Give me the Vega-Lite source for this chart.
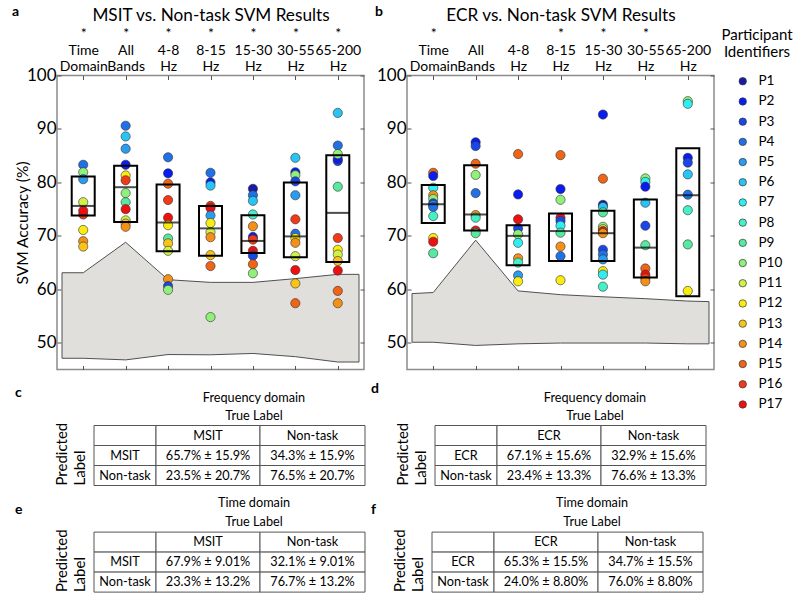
{
"$schema": "https://vega.github.io/schema/vega-lite/v6.json",
"background": "white",
"padding": {"left": 11, "top": 3.5, "right": 5, "bottom": 5},
"config": {
  "font": "Lato",
  "view": {"stroke": null},
  "axis": {"labelFont": "Lato", "titleFont": "Lato", "labelColor": "black", "titleColor": "black", "titleFontWeight": "normal", "grid": false},
  "title": {"font": "Lato", "color": "black"},
  "text": {"font": "Lato"}
},
"datasets": {
  "pts": [
    {"pn":"a","c":1,"p":"P4","v":83.3},{"pn":"a","c":1,"p":"P10","v":81.9},{"pn":"a","c":1,"p":"P5","v":80.6},{"pn":"a","c":1,"p":"P11","v":76.3},{"pn":"a","c":1,"p":"P16","v":74.0},{"pn":"a","c":1,"p":"P17","v":74.7},{"pn":"a","c":1,"p":"P12","v":71.1},{"pn":"a","c":1,"p":"P14","v":69.0},{"pn":"a","c":1,"p":"P13","v":68.0},
    {"pn":"a","c":2,"p":"P4","v":90.6},{"pn":"a","c":2,"p":"P6","v":88.6},{"pn":"a","c":2,"p":"P5","v":86.3},{"pn":"a","c":2,"p":"P2","v":83.3},{"pn":"a","c":2,"p":"P12","v":81.3},{"pn":"a","c":2,"p":"P16","v":80.4},{"pn":"a","c":2,"p":"P10","v":78.0},{"pn":"a","c":2,"p":"P9","v":76.3},{"pn":"a","c":2,"p":"P17","v":75.0},{"pn":"a","c":2,"p":"P11","v":72.9},{"pn":"a","c":2,"p":"P13","v":72.3},{"pn":"a","c":2,"p":"P14","v":71.7},
    {"pn":"a","c":3,"p":"P4","v":84.7},{"pn":"a","c":3,"p":"P2","v":81.7},{"pn":"a","c":3,"p":"P15","v":79.75},{"pn":"a","c":3,"p":"P16","v":76.7},{"pn":"a","c":3,"p":"P17","v":73.4},{"pn":"a","c":3,"p":"P12","v":72.0},{"pn":"a","c":3,"p":"P9","v":69.5},{"pn":"a","c":3,"p":"P13","v":68.6},{"pn":"a","c":3,"p":"P11","v":67.2},{"pn":"a","c":3,"p":"P14","v":61.9},{"pn":"a","c":3,"p":"P3","v":60.6},{"pn":"a","c":3,"p":"P10","v":59.9},
    {"pn":"a","c":4,"p":"P4","v":81.8},{"pn":"a","c":4,"p":"P2","v":80.0},{"pn":"a","c":4,"p":"P6","v":79.4},{"pn":"a","c":4,"p":"P16","v":75.6},{"pn":"a","c":4,"p":"P17","v":75.2},{"pn":"a","c":4,"p":"P5","v":73.8},{"pn":"a","c":4,"p":"P12","v":72.4},{"pn":"a","c":4,"p":"P11","v":70.7},{"pn":"a","c":4,"p":"P14","v":69.75},{"pn":"a","c":4,"p":"P13","v":66.4},{"pn":"a","c":4,"p":"P15","v":64.35},{"pn":"a","c":4,"p":"P10","v":54.8},
    {"pn":"a","c":5,"p":"P1","v":78.8},{"pn":"a","c":5,"p":"P4","v":77.6},{"pn":"a","c":5,"p":"P6","v":76.55},{"pn":"a","c":5,"p":"P8","v":74.0},{"pn":"a","c":5,"p":"P14","v":71.8},{"pn":"a","c":5,"p":"P2","v":69.8},{"pn":"a","c":5,"p":"P16","v":69.3},{"pn":"a","c":5,"p":"P17","v":67.2},{"pn":"a","c":5,"p":"P3","v":66.3},{"pn":"a","c":5,"p":"P15","v":64.7},{"pn":"a","c":5,"p":"P10","v":63.0},
    {"pn":"a","c":6,"p":"P6","v":84.6},{"pn":"a","c":6,"p":"P2","v":81.9},{"pn":"a","c":6,"p":"P10","v":81.35},{"pn":"a","c":6,"p":"P3","v":80.2},{"pn":"a","c":6,"p":"P5","v":77.6},{"pn":"a","c":6,"p":"P16","v":73.1},{"pn":"a","c":6,"p":"P4","v":70.4},{"pn":"a","c":6,"p":"P12","v":69.6},{"pn":"a","c":6,"p":"P14","v":68.7},{"pn":"a","c":6,"p":"P11","v":66.2},{"pn":"a","c":6,"p":"P17","v":63.6},{"pn":"a","c":6,"p":"P13","v":61.1},{"pn":"a","c":6,"p":"P15","v":57.4},
    {"pn":"a","c":7,"p":"P6","v":93.0},{"pn":"a","c":7,"p":"P4","v":86.9},{"pn":"a","c":7,"p":"P3","v":84.0},{"pn":"a","c":7,"p":"P2","v":84.4},{"pn":"a","c":7,"p":"P10","v":85.3},{"pn":"a","c":7,"p":"P9","v":79.2},{"pn":"a","c":7,"p":"P16","v":69.6},{"pn":"a","c":7,"p":"P12","v":67.4},{"pn":"a","c":7,"p":"P11","v":66.5},{"pn":"a","c":7,"p":"P13","v":65.3},{"pn":"a","c":7,"p":"P17","v":63.5},{"pn":"a","c":7,"p":"P15","v":59.7},{"pn":"a","c":7,"p":"P14","v":57.4},
    {"pn":"b","c":1,"p":"P15","v":81.8},{"pn":"b","c":1,"p":"P2","v":81.2},{"pn":"b","c":1,"p":"P7","v":79.0},{"pn":"b","c":1,"p":"P14","v":77.6},{"pn":"b","c":1,"p":"P10","v":76.9},{"pn":"b","c":1,"p":"P3","v":76.1},{"pn":"b","c":1,"p":"P5","v":75.75},{"pn":"b","c":1,"p":"P4","v":75.4},{"pn":"b","c":1,"p":"P8","v":73.7},{"pn":"b","c":1,"p":"P12","v":69.6},{"pn":"b","c":1,"p":"P17","v":68.9},{"pn":"b","c":1,"p":"P9","v":66.75},
    {"pn":"b","c":2,"p":"P2","v":87.5},{"pn":"b","c":2,"p":"P3","v":86.8},{"pn":"b","c":2,"p":"P15","v":83.5},{"pn":"b","c":2,"p":"P10","v":81.4},{"pn":"b","c":2,"p":"P4","v":78.0},{"pn":"b","c":2,"p":"P14","v":73.9},{"pn":"b","c":2,"p":"P8","v":73.4},{"pn":"b","c":2,"p":"P17","v":71.0},{"pn":"b","c":2,"p":"P9","v":70.5},
    {"pn":"b","c":3,"p":"P15","v":85.3},{"pn":"b","c":3,"p":"P2","v":77.75},{"pn":"b","c":3,"p":"P17","v":73.1},{"pn":"b","c":3,"p":"P3","v":71.4},{"pn":"b","c":3,"p":"P10","v":70.3},{"pn":"b","c":3,"p":"P7","v":68.7},{"pn":"b","c":3,"p":"P14","v":65.8},{"pn":"b","c":3,"p":"P8","v":65.0},{"pn":"b","c":3,"p":"P5","v":62.6},{"pn":"b","c":3,"p":"P12","v":61.5},
    {"pn":"b","c":4,"p":"P15","v":85.1},{"pn":"b","c":4,"p":"P2","v":78.75},{"pn":"b","c":4,"p":"P10","v":76.75},{"pn":"b","c":4,"p":"P17","v":73.4},{"pn":"b","c":4,"p":"P3","v":72.8},{"pn":"b","c":4,"p":"P7","v":71.9},{"pn":"b","c":4,"p":"P9","v":70.6},{"pn":"b","c":4,"p":"P14","v":68.0},{"pn":"b","c":4,"p":"P4","v":66.2},{"pn":"b","c":4,"p":"P12","v":61.7},
    {"pn":"b","c":5,"p":"P2","v":92.7},{"pn":"b","c":5,"p":"P15","v":80.7},{"pn":"b","c":5,"p":"P1","v":75.8},{"pn":"b","c":5,"p":"P6","v":75.4},{"pn":"b","c":5,"p":"P9","v":74.4},{"pn":"b","c":5,"p":"P10","v":71.7},{"pn":"b","c":5,"p":"P11","v":71.25},{"pn":"b","c":5,"p":"P17","v":70.9},{"pn":"b","c":5,"p":"P14","v":70.5},{"pn":"b","c":5,"p":"P3","v":67.4},{"pn":"b","c":5,"p":"P4","v":66.5},{"pn":"b","c":5,"p":"P5","v":65.6},{"pn":"b","c":5,"p":"P12","v":63.4},{"pn":"b","c":5,"p":"P7","v":62.75},{"pn":"b","c":5,"p":"P8","v":60.5},
    {"pn":"b","c":6,"p":"P10","v":80.75},{"pn":"b","c":6,"p":"P7","v":80.1},{"pn":"b","c":6,"p":"P2","v":79.2},{"pn":"b","c":6,"p":"P6","v":76.2},{"pn":"b","c":6,"p":"P3","v":71.9},{"pn":"b","c":6,"p":"P9","v":68.25},{"pn":"b","c":6,"p":"P15","v":63.9},{"pn":"b","c":6,"p":"P17","v":62.75},{"pn":"b","c":6,"p":"P16","v":62.1},{"pn":"b","c":6,"p":"P14","v":61.5},
    {"pn":"b","c":7,"p":"P10","v":95.2},{"pn":"b","c":7,"p":"P7","v":94.7},{"pn":"b","c":7,"p":"P2","v":84.6},{"pn":"b","c":7,"p":"P3","v":83.7},{"pn":"b","c":7,"p":"P6","v":81.5},{"pn":"b","c":7,"p":"P4","v":77.7},{"pn":"b","c":7,"p":"P8","v":74.8},{"pn":"b","c":7,"p":"P9","v":68.4},{"pn":"b","c":7,"p":"P12","v":59.7}
  ],
  "box": [
    {"pn":"a","c":1,"lo":73.8,"med":75.6,"hi":81.1},{"pn":"a","c":2,"lo":72.6,"med":79.1,"hi":83.1},{"pn":"a","c":3,"lo":67.1,"med":72.5,"hi":79.6},{"pn":"a","c":4,"lo":66.3,"med":71.4,"hi":75.6},{"pn":"a","c":5,"lo":66.8,"med":69.05,"hi":73.85},{"pn":"a","c":6,"lo":66.0,"med":69.9,"hi":80.0},{"pn":"a","c":7,"lo":65.1,"med":74.3,"hi":85.1},
    {"pn":"b","c":1,"lo":72.4,"med":75.9,"hi":79.5},{"pn":"b","c":2,"lo":71.0,"med":74.0,"hi":83.2},{"pn":"b","c":3,"lo":64.5,"med":70.0,"hi":72.0},{"pn":"b","c":4,"lo":65.3,"med":70.9,"hi":74.2},{"pn":"b","c":5,"lo":65.3,"med":70.5,"hi":74.7},{"pn":"b","c":6,"lo":62.2,"med":67.8,"hi":76.8},{"pn":"b","c":7,"lo":58.7,"med":77.6,"hi":86.4}
  ],
  "band": [
    {"pn":"a","x":0.5,"hi":63.1,"lo":47.1},{"pn":"a","x":1,"hi":63.1,"lo":47.1},{"pn":"a","x":2,"hi":68.8,"lo":46.8},{"pn":"a","x":3,"hi":61.8,"lo":47.8},{"pn":"a","x":4,"hi":61.3,"lo":47.75},{"pn":"a","x":5,"hi":61.3,"lo":48.0},{"pn":"a","x":6,"hi":62.0,"lo":47.4},{"pn":"a","x":7,"hi":62.8,"lo":46.4},{"pn":"a","x":7.5,"hi":62.8,"lo":46.4},
    {"pn":"b","x":0.5,"hi":59.2,"lo":50.1},{"pn":"b","x":1,"hi":59.4,"lo":50.1},{"pn":"b","x":2,"hi":69.2,"lo":49.5},{"pn":"b","x":3,"hi":59.7,"lo":49.8},{"pn":"b","x":4,"hi":59.0,"lo":49.95},{"pn":"b","x":5,"hi":58.6,"lo":49.95},{"pn":"b","x":6,"hi":58.25,"lo":49.95},{"pn":"b","x":7,"hi":57.8,"lo":49.8},{"pn":"b","x":7.5,"hi":57.7,"lo":49.8}
  ],
  "tbl": [
    {"t":"c","col":0,"row":0,"txt":""},{"t":"c","col":0,"row":1,"txt":"MSIT"},{"t":"c","col":0,"row":2,"txt":"Non-task"},
    {"t":"c","col":1,"row":0,"txt":"MSIT"},{"t":"c","col":1,"row":1,"txt":"65.7% ± 15.9%"},{"t":"c","col":1,"row":2,"txt":"23.5% ± 20.7%"},
    {"t":"c","col":2,"row":0,"txt":"Non-task"},{"t":"c","col":2,"row":1,"txt":"34.3% ± 15.9%"},{"t":"c","col":2,"row":2,"txt":"76.5% ± 20.7%"},
    {"t":"d","col":0,"row":0,"txt":""},{"t":"d","col":0,"row":1,"txt":"ECR"},{"t":"d","col":0,"row":2,"txt":"Non-task"},
    {"t":"d","col":1,"row":0,"txt":"ECR"},{"t":"d","col":1,"row":1,"txt":"67.1% ± 15.6%"},{"t":"d","col":1,"row":2,"txt":"23.4% ± 13.3%"},
    {"t":"d","col":2,"row":0,"txt":"Non-task"},{"t":"d","col":2,"row":1,"txt":"32.9% ± 15.6%"},{"t":"d","col":2,"row":2,"txt":"76.6% ± 13.3%"},
    {"t":"e","col":0,"row":0,"txt":""},{"t":"e","col":0,"row":1,"txt":"MSIT"},{"t":"e","col":0,"row":2,"txt":"Non-task"},
    {"t":"e","col":1,"row":0,"txt":"MSIT"},{"t":"e","col":1,"row":1,"txt":"67.9% ± 9.01%"},{"t":"e","col":1,"row":2,"txt":"23.3% ± 13.2%"},
    {"t":"e","col":2,"row":0,"txt":"Non-task"},{"t":"e","col":2,"row":1,"txt":"32.1% ± 9.01%"},{"t":"e","col":2,"row":2,"txt":"76.7% ± 13.2%"},
    {"t":"f","col":0,"row":0,"txt":""},{"t":"f","col":0,"row":1,"txt":"ECR"},{"t":"f","col":0,"row":2,"txt":"Non-task"},
    {"t":"f","col":1,"row":0,"txt":"ECR"},{"t":"f","col":1,"row":1,"txt":"65.3% ± 15.5%"},{"t":"f","col":1,"row":2,"txt":"24.0% ± 8.80%"},
    {"t":"f","col":2,"row":0,"txt":"Non-task"},{"t":"f","col":2,"row":1,"txt":"34.7% ± 15.5%"},{"t":"f","col":2,"row":2,"txt":"76.0% ± 8.80%"}
  ],
  "plab": [{"txt": "Predicted\nLabel"}]
},
"columns": 1,
"align": "none",
"spacing": -31,
"concat": [
  {
    "hconcat": [
      {
        "width": 307, "height": 294,
        "view": {"stroke": "#8c8c8c", "strokeWidth": 1.5},
        "title": {"text": "a", "anchor": "start", "frame": "group", "dx": -45, "fontSize": 14, "fontWeight": "bold", "baseline": "alphabetic", "offset": -23.5},
        "layer": [
          {
            "data": {"name": "band"},
            "transform": [{"filter": "datum.pn === 'a'"}],
            "mark": {"type": "area", "fill": "#e0dfdb", "stroke": "#505050", "strokeWidth": 1, "interpolate": "linear"},
            "encoding": {
              "x": {"field": "x", "type": "quantitative", "scale": {"domain": [0.5, 7.5], "nice": false, "zero": false},
                "axis": {"orient": "top", "values": [1,2,3,4,5,6,7], "domain": false, "tickSize": -4, "tickColor": "#555", "labelFontSize": 14, "labelLineHeight": 16.5, "labelBaseline": "top", "labelPadding": 53, "labelOverlap": false, "labelFlush": false, "labelBound": false,
                  "labelExpr": "split(['*|Time|Domain','*|All|Bands','*|4-8|Hz','*|8-15|Hz','*|15-30|Hz','*|30-55|Hz','*|65-200|Hz'][datum.value-1], '|')",
                  "title": "MSIT vs. Non-task SVM Results", "titleFontSize": 17.2, "titlePadding": 2.4}},
              "y": {"field": "hi", "type": "quantitative", "scale": {"domain": [45, 100], "nice": false, "zero": false},
                "axis": {"orient": "left", "values": [50,60,70,80,90,100], "domain": false, "tickSize": -4, "tickColor": "#555", "labelFontSize": 17, "labelPadding": 5, "title": "SVM Accuracy (%)", "titleFontSize": 15.5, "titlePadding": -4}},
              "y2": {"field": "lo"}
            }
          },
          {
            "data": {"name": "pts"},
            "transform": [{"filter": "datum.pn === 'a'"}],
            "mark": {"type": "point", "filled": true, "size": 85, "stroke": "#303030", "strokeWidth": 0.6, "opacity": 1},
            "encoding": {
              "x": {"field": "c", "type": "quantitative", "axis": {"orient": "bottom", "values": [1,2,3,4,5,6,7], "domain": false, "labels": false, "tickSize": -4, "tickColor": "#555", "title": null}},
              "y": {"field": "v", "type": "quantitative", "axis": {"orient": "right", "values": [50,60,70,80,90,100], "domain": false, "labels": false, "tickSize": -4, "tickColor": "#555", "title": null}},
              "color": {"field": "p", "type": "nominal",
                "scale": {"domain": ["P1","P2","P3","P4","P5","P6","P7","P8","P9","P10","P11","P12","P13","P14","P15","P16","P17"],
                  "range": ["#1a1aa8","#0a1cf0","#1a46e8","#2070e6","#2a9cf0","#28c4f4","#30eef0","#44f0c8","#58e8a0","#90f07a","#d0f04a","#f8ec10","#f8c418","#f49018","#f06418","#f03a18","#ee1010"]},
                "legend": null}
            }
          },
          {
            "data": {"name": "box"},
            "transform": [{"filter": "datum.pn === 'a'"}],
            "mark": {"type": "bar", "orient": "vertical", "size": 23, "fillOpacity": 0, "stroke": "black", "strokeWidth": 2},
            "encoding": {
              "x": {"field": "c", "type": "quantitative", "axis": null},
              "y": {"field": "lo", "type": "quantitative", "axis": null},
              "y2": {"field": "hi"}
            }
          },
          {
            "data": {"name": "box"},
            "transform": [{"filter": "datum.pn === 'a'"}],
            "mark": {"type": "tick", "orient": "horizontal", "size": 23, "thickness": 2, "color": "black"},
            "encoding": {
              "x": {"field": "c", "type": "quantitative", "axis": null},
              "y": {"field": "med", "type": "quantitative", "axis": null}
            }
          }
        ],
        "resolve": {"axis": {"x": "independent", "y": "independent"}}
      },
      {
        "width": 307, "height": 294,
        "view": {"stroke": "#8c8c8c", "strokeWidth": 1.5},
        "title": {"text": "b", "anchor": "start", "frame": "group", "dx": -32, "fontSize": 14, "fontWeight": "bold", "baseline": "alphabetic", "offset": -23.5},
        "layer": [
          {
            "data": {"name": "band"},
            "transform": [{"filter": "datum.pn === 'b'"}],
            "mark": {"type": "area", "fill": "#e0dfdb", "stroke": "#505050", "strokeWidth": 1, "interpolate": "linear"},
            "encoding": {
              "x": {"field": "x", "type": "quantitative", "scale": {"domain": [0.5, 7.5], "nice": false, "zero": false},
                "axis": {"orient": "top", "values": [1,2,3,4,5,6,7], "domain": false, "tickSize": -4, "tickColor": "#555", "labelFontSize": 14, "labelLineHeight": 16.5, "labelBaseline": "top", "labelPadding": 53, "labelOverlap": false, "labelFlush": false, "labelBound": false,
                  "labelExpr": "split(['*|Time|Domain',' |All|Bands',' |4-8|Hz','*|8-15|Hz','*|15-30|Hz','*|30-55|Hz',' |65-200|Hz'][datum.value-1], '|')",
                  "title": "ECR vs. Non-task SVM Results", "titleFontSize": 17.2, "titlePadding": 2.4}},
              "y": {"field": "hi", "type": "quantitative", "scale": {"domain": [45, 100], "nice": false, "zero": false},
                "axis": {"orient": "left", "values": [50,60,70,80,90,100], "domain": false, "tickSize": -4, "tickColor": "#555", "labelFontSize": 17, "labelPadding": 5, "title": null}},
              "y2": {"field": "lo"}
            }
          },
          {
            "data": {"name": "pts"},
            "transform": [{"filter": "datum.pn === 'b'"}],
            "mark": {"type": "point", "filled": true, "size": 85, "stroke": "#303030", "strokeWidth": 0.6, "opacity": 1},
            "encoding": {
              "x": {"field": "c", "type": "quantitative", "axis": {"orient": "bottom", "values": [1,2,3,4,5,6,7], "domain": false, "labels": false, "tickSize": -4, "tickColor": "#555", "title": null}},
              "y": {"field": "v", "type": "quantitative", "axis": {"orient": "right", "values": [50,60,70,80,90,100], "domain": false, "labels": false, "tickSize": -4, "tickColor": "#555", "title": null}},
              "color": {"field": "p", "type": "nominal",
                "scale": {"domain": ["P1","P2","P3","P4","P5","P6","P7","P8","P9","P10","P11","P12","P13","P14","P15","P16","P17"],
                  "range": ["#1a1aa8","#0a1cf0","#1a46e8","#2070e6","#2a9cf0","#28c4f4","#30eef0","#44f0c8","#58e8a0","#90f07a","#d0f04a","#f8ec10","#f8c418","#f49018","#f06418","#f03a18","#ee1010"]},
                "legend": {"orient": "none", "legendX": 314, "legendY": -48, "title": ["Participant", "Identifiers"], "titleFontSize": 15, "titleFontWeight": "normal", "titleAnchor": "middle", "titleAlign": "center", "titleLineHeight": 17, "titlePadding": 15, "labelFontSize": 13.5, "labelOffset": 9, "symbolSize": 55, "symbolOffset": 5, "symbolType": "circle", "symbolStrokeColor": "#333", "symbolStrokeWidth": 0.7, "rowPadding": 5.2, "titleColor": "black", "labelColor": "black"}}
            }
          },
          {
            "data": {"name": "box"},
            "transform": [{"filter": "datum.pn === 'b'"}],
            "mark": {"type": "bar", "orient": "vertical", "size": 23, "fillOpacity": 0, "stroke": "black", "strokeWidth": 2},
            "encoding": {
              "x": {"field": "c", "type": "quantitative", "axis": null},
              "y": {"field": "lo", "type": "quantitative", "axis": null},
              "y2": {"field": "hi"}
            }
          },
          {
            "data": {"name": "box"},
            "transform": [{"filter": "datum.pn === 'b'"}],
            "mark": {"type": "tick", "orient": "horizontal", "size": 23, "thickness": 2, "color": "black"},
            "encoding": {
              "x": {"field": "c", "type": "quantitative", "axis": null},
              "y": {"field": "med", "type": "quantitative", "axis": null}
            }
          }
        ],
        "resolve": {"axis": {"x": "independent", "y": "independent"}}
      }
    ],
    "spacing": 43,
    "bounds": "flush",
    "resolve": {"scale": {"color": "independent"}, "legend": {"color": "independent"}}
  },
  {
    "columns": 1,
    "align": "none",
    "spacing": 9.6,
    "concat": [
      {
        "spacing": 5,
        "hconcat": [
          {"spacing": 0, "bounds": "flush", "hconcat": [
            {"width": 37, "height": 60, "title": {"text": "c", "anchor": "start", "frame": "group", "dx": -42, "fontSize": 14, "fontWeight": "bold", "baseline": "alphabetic", "offset": 11.5},
             "data": {"name": "plab"}, "mark": {"type": "text", "angle": 270, "fontSize": 15, "lineBreak": "\n", "lineHeight": 18, "align": "left", "dx": -30, "dy": -13.5}, "encoding": {"text": {"field": "txt"}}},
            {"width": 62, "height": 60, "data": {"name": "tbl"}, "transform": [{"filter": "datum.t === 'c' && datum.col === 0"}],
             "encoding": {"y": {"field": "row", "type": "ordinal", "scale": {"domain": [0,1,2], "paddingInner": 0, "paddingOuter": 0}, "axis": null}},
             "layer": [{"mark": {"type": "rect", "fill": "white", "stroke": "#555", "strokeWidth": 1}}, {"mark": {"type": "text", "fontSize": 12.7}, "encoding": {"text": {"field": "txt"}}}]},
            {"width": 104, "height": 60, "data": {"name": "tbl"}, "transform": [{"filter": "datum.t === 'c' && datum.col === 1"}],
             "title": {"text": "Frequency domain", "subtitle": "True Label", "anchor": "middle", "dx": 46, "fontSize": 12.7, "fontWeight": "normal", "baseline": "alphabetic", "subtitleFontSize": 12.7, "subtitleFont": "Lato", "subtitleColor": "black", "subtitlePadding": 5.5, "offset": -8},
             "encoding": {"y": {"field": "row", "type": "ordinal", "scale": {"domain": [0,1,2], "paddingInner": 0, "paddingOuter": 0}, "axis": null}},
             "layer": [{"mark": {"type": "rect", "fill": "white", "stroke": "#555", "strokeWidth": 1}}, {"mark": {"type": "text", "fontSize": 12.7}, "encoding": {"text": {"field": "txt"}}}]},
            {"width": 105, "height": 60, "data": {"name": "tbl"}, "transform": [{"filter": "datum.t === 'c' && datum.col === 2"}],
             "encoding": {"y": {"field": "row", "type": "ordinal", "scale": {"domain": [0,1,2], "paddingInner": 0, "paddingOuter": 0}, "axis": null}},
             "layer": [{"mark": {"type": "rect", "fill": "white", "stroke": "#555", "strokeWidth": 1}}, {"mark": {"type": "text", "fontSize": 12.7}, "encoding": {"text": {"field": "txt"}}}]}
          ]},
          {"spacing": 0, "bounds": "flush", "hconcat": [
            {"width": 37, "height": 60, "title": {"text": "d", "anchor": "start", "frame": "group", "dx": -27, "fontSize": 14, "fontWeight": "bold", "baseline": "alphabetic", "offset": 16},
             "data": {"name": "plab"}, "mark": {"type": "text", "angle": 270, "fontSize": 15, "lineBreak": "\n", "lineHeight": 18, "align": "left", "dx": -30, "dy": -13.5}, "encoding": {"text": {"field": "txt"}}},
            {"width": 62, "height": 60, "data": {"name": "tbl"}, "transform": [{"filter": "datum.t === 'd' && datum.col === 0"}],
             "encoding": {"y": {"field": "row", "type": "ordinal", "scale": {"domain": [0,1,2], "paddingInner": 0, "paddingOuter": 0}, "axis": null}},
             "layer": [{"mark": {"type": "rect", "fill": "white", "stroke": "#555", "strokeWidth": 1}}, {"mark": {"type": "text", "fontSize": 12.7}, "encoding": {"text": {"field": "txt"}}}]},
            {"width": 104, "height": 60, "data": {"name": "tbl"}, "transform": [{"filter": "datum.t === 'd' && datum.col === 1"}],
             "title": {"text": "Frequency domain", "subtitle": "True Label", "anchor": "middle", "dx": 46, "fontSize": 12.7, "fontWeight": "normal", "baseline": "alphabetic", "subtitleFontSize": 12.7, "subtitleFont": "Lato", "subtitleColor": "black", "subtitlePadding": 5.5, "offset": -8},
             "encoding": {"y": {"field": "row", "type": "ordinal", "scale": {"domain": [0,1,2], "paddingInner": 0, "paddingOuter": 0}, "axis": null}},
             "layer": [{"mark": {"type": "rect", "fill": "white", "stroke": "#555", "strokeWidth": 1}}, {"mark": {"type": "text", "fontSize": 12.7}, "encoding": {"text": {"field": "txt"}}}]},
            {"width": 105, "height": 60, "data": {"name": "tbl"}, "transform": [{"filter": "datum.t === 'd' && datum.col === 2"}],
             "encoding": {"y": {"field": "row", "type": "ordinal", "scale": {"domain": [0,1,2], "paddingInner": 0, "paddingOuter": 0}, "axis": null}},
             "layer": [{"mark": {"type": "rect", "fill": "white", "stroke": "#555", "strokeWidth": 1}}, {"mark": {"type": "text", "fontSize": 12.7}, "encoding": {"text": {"field": "txt"}}}]}
          ]}
        ]
      },
      {
        "spacing": 5,
        "hconcat": [
          {"spacing": 0, "bounds": "flush", "hconcat": [
            {"width": 37, "height": 60, "title": {"text": "e", "anchor": "start", "frame": "group", "dx": -42, "fontSize": 14, "fontWeight": "bold", "baseline": "alphabetic", "offset": 1},
             "data": {"name": "plab"}, "mark": {"type": "text", "angle": 270, "fontSize": 15, "lineBreak": "\n", "lineHeight": 18, "align": "left", "dx": -30, "dy": -13.5}, "encoding": {"text": {"field": "txt"}}},
            {"width": 62, "height": 60, "data": {"name": "tbl"}, "transform": [{"filter": "datum.t === 'e' && datum.col === 0"}],
             "encoding": {"y": {"field": "row", "type": "ordinal", "scale": {"domain": [0,1,2], "paddingInner": 0, "paddingOuter": 0}, "axis": null}},
             "layer": [{"mark": {"type": "rect", "fill": "white", "stroke": "#555", "strokeWidth": 1}}, {"mark": {"type": "text", "fontSize": 12.7}, "encoding": {"text": {"field": "txt"}}}]},
            {"width": 104, "height": 60, "data": {"name": "tbl"}, "transform": [{"filter": "datum.t === 'e' && datum.col === 1"}],
             "title": {"text": "Time domain", "subtitle": "True Label", "anchor": "middle", "dx": 46, "fontSize": 12.7, "fontWeight": "normal", "baseline": "alphabetic", "subtitleFontSize": 12.7, "subtitleFont": "Lato", "subtitleColor": "black", "subtitlePadding": 7, "offset": -7.5},
             "encoding": {"y": {"field": "row", "type": "ordinal", "scale": {"domain": [0,1,2], "paddingInner": 0, "paddingOuter": 0}, "axis": null}},
             "layer": [{"mark": {"type": "rect", "fill": "white", "stroke": "#555", "strokeWidth": 1}}, {"mark": {"type": "text", "fontSize": 12.7}, "encoding": {"text": {"field": "txt"}}}]},
            {"width": 105, "height": 60, "data": {"name": "tbl"}, "transform": [{"filter": "datum.t === 'e' && datum.col === 2"}],
             "encoding": {"y": {"field": "row", "type": "ordinal", "scale": {"domain": [0,1,2], "paddingInner": 0, "paddingOuter": 0}, "axis": null}},
             "layer": [{"mark": {"type": "rect", "fill": "white", "stroke": "#555", "strokeWidth": 1}}, {"mark": {"type": "text", "fontSize": 12.7}, "encoding": {"text": {"field": "txt"}}}]}
          ]},
          {"spacing": 0, "bounds": "flush", "hconcat": [
            {"width": 37, "height": 60, "title": {"text": "f", "anchor": "start", "frame": "group", "dx": -24, "fontSize": 14, "fontWeight": "bold", "baseline": "alphabetic", "offset": 1},
             "data": {"name": "plab"}, "mark": {"type": "text", "angle": 270, "fontSize": 15, "lineBreak": "\n", "lineHeight": 18, "align": "left", "dx": -30, "dy": -13.5}, "encoding": {"text": {"field": "txt"}}},
            {"width": 62, "height": 60, "data": {"name": "tbl"}, "transform": [{"filter": "datum.t === 'f' && datum.col === 0"}],
             "encoding": {"y": {"field": "row", "type": "ordinal", "scale": {"domain": [0,1,2], "paddingInner": 0, "paddingOuter": 0}, "axis": null}},
             "layer": [{"mark": {"type": "rect", "fill": "white", "stroke": "#555", "strokeWidth": 1}}, {"mark": {"type": "text", "fontSize": 12.7}, "encoding": {"text": {"field": "txt"}}}]},
            {"width": 104, "height": 60, "data": {"name": "tbl"}, "transform": [{"filter": "datum.t === 'f' && datum.col === 1"}],
             "title": {"text": "Time domain", "subtitle": "True Label", "anchor": "middle", "dx": 46, "fontSize": 12.7, "fontWeight": "normal", "baseline": "alphabetic", "subtitleFontSize": 12.7, "subtitleFont": "Lato", "subtitleColor": "black", "subtitlePadding": 7, "offset": -7.5},
             "encoding": {"y": {"field": "row", "type": "ordinal", "scale": {"domain": [0,1,2], "paddingInner": 0, "paddingOuter": 0}, "axis": null}},
             "layer": [{"mark": {"type": "rect", "fill": "white", "stroke": "#555", "strokeWidth": 1}}, {"mark": {"type": "text", "fontSize": 12.7}, "encoding": {"text": {"field": "txt"}}}]},
            {"width": 105, "height": 60, "data": {"name": "tbl"}, "transform": [{"filter": "datum.t === 'f' && datum.col === 2"}],
             "encoding": {"y": {"field": "row", "type": "ordinal", "scale": {"domain": [0,1,2], "paddingInner": 0, "paddingOuter": 0}, "axis": null}},
             "layer": [{"mark": {"type": "rect", "fill": "white", "stroke": "#555", "strokeWidth": 1}}, {"mark": {"type": "text", "fontSize": 12.7}, "encoding": {"text": {"field": "txt"}}}]}
          ]}
        ]
      }
    ]
  }
]
}
